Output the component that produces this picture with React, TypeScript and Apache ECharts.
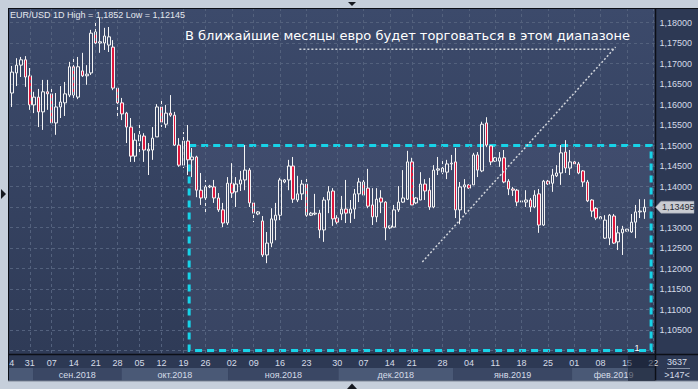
import React, { useEffect, useRef } from 'react';
import * as echarts from 'echarts';

// Daily EUR/USD candles, oldest first
const opens = [
  1.1628, 1.1677, 1.1696, 1.1709, 1.1670, 1.1599, 1.1618, 1.1582, 1.1631, 1.1626,
  1.1555, 1.1594, 1.1604, 1.1623, 1.1692, 1.1618, 1.1682, 1.1670, 1.1677, 1.1777,
  1.1750, 1.1750, 1.1745, 1.1740, 1.1640, 1.1604, 1.1579, 1.1545, 1.1474, 1.1511,
  1.1523, 1.1487, 1.1489, 1.1521, 1.1594, 1.1552, 1.1579, 1.1574, 1.1501, 1.1452,
  1.1511, 1.1465, 1.1472, 1.1391, 1.1372, 1.1399, 1.1399, 1.1372, 1.1343, 1.1311,
  1.1408, 1.1387, 1.1406, 1.1416, 1.1440, 1.1360, 1.1333, 1.1316, 1.1233, 1.1262,
  1.1318, 1.1330, 1.1411, 1.1416, 1.1450, 1.1367, 1.1382, 1.1406, 1.1330, 1.1333,
  1.1335, 1.1294, 1.1367, 1.1389, 1.1323, 1.1333, 1.1345, 1.1335, 1.1345, 1.1382,
  1.1411, 1.1396, 1.1355, 1.1326, 1.1372, 1.1362, 1.1299, 1.1301, 1.1343, 1.1362,
  1.1369, 1.1460, 1.1360, 1.1367, 1.1406, 1.1391, 1.1350, 1.1440, 1.1435, 1.1435,
  1.1455, 1.1460, 1.1343, 1.1399, 1.1404, 1.1404, 1.1477, 1.1438, 1.1555, 1.1499,
  1.1462, 1.1462, 1.1470, 1.1413, 1.1394, 1.1391, 1.1362, 1.1362, 1.1367, 1.1350,
  1.1382, 1.1306, 1.1413, 1.1408, 1.1426, 1.1433, 1.1484, 1.1445, 1.1460, 1.1455,
  1.1438, 1.1411, 1.1367, 1.1347, 1.1321, 1.1274, 1.1274, 1.1328, 1.1265, 1.1287,
  1.1291, 1.1289, 1.1313, 1.1338, 1.1338,
];
const highs = [
  1.1694, 1.1713, 1.1716, 1.1718, 1.1689, 1.1631, 1.1638, 1.1660, 1.1660, 1.1638,
  1.1628, 1.1645, 1.1655, 1.1704, 1.1713, 1.1716, 1.1726, 1.1696, 1.1782, 1.1806,
  1.1811, 1.1787, 1.1789, 1.1757, 1.1643, 1.1616, 1.1582, 1.1567, 1.1530, 1.1550,
  1.1530, 1.1506, 1.1545, 1.1601, 1.1609, 1.1599, 1.1623, 1.1582, 1.1518, 1.1533,
  1.1550, 1.1494, 1.1475, 1.1433, 1.1416, 1.1404, 1.1416, 1.1384, 1.1360, 1.1423,
  1.1457, 1.1423, 1.1438, 1.1501, 1.1445, 1.1362, 1.1340, 1.1328, 1.1289, 1.1347,
  1.1360, 1.1421, 1.1418, 1.1465, 1.1472, 1.1426, 1.1416, 1.1421, 1.1338, 1.1382,
  1.1343, 1.1374, 1.1401, 1.1396, 1.1330, 1.1377, 1.1416, 1.1367, 1.1394, 1.1421,
  1.1416, 1.1443, 1.1396, 1.1396, 1.1391, 1.1364, 1.1304, 1.1355, 1.1401, 1.1440,
  1.1487, 1.1470, 1.1374, 1.1435, 1.1418, 1.1421, 1.1452, 1.1472, 1.1462, 1.1465,
  1.1477, 1.1494, 1.1411, 1.1418, 1.1406, 1.1482, 1.1484, 1.1558, 1.1569, 1.1500,
  1.1472, 1.1484, 1.1489, 1.1418, 1.1399, 1.1394, 1.1366, 1.1391, 1.1372, 1.1391,
  1.1394, 1.1416, 1.1416, 1.1443, 1.1452, 1.1501, 1.1513, 1.1489, 1.1462, 1.1460,
  1.1440, 1.1416, 1.1369, 1.1350, 1.1328, 1.1330, 1.1333, 1.1333, 1.1304, 1.1304,
  1.1296, 1.1333, 1.1355, 1.1369, 1.1369,
];
const lows = [
  1.1594, 1.1645, 1.1667, 1.1643, 1.1587, 1.1579, 1.1545, 1.1538, 1.1587, 1.1550,
  1.1526, 1.1567, 1.1572, 1.1618, 1.1616, 1.1613, 1.1667, 1.1648, 1.1672, 1.1745,
  1.1726, 1.1733, 1.1728, 1.1635, 1.1570, 1.1562, 1.1506, 1.1460, 1.1460, 1.1484,
  1.1460, 1.1428, 1.1465, 1.1521, 1.1545, 1.1543, 1.1570, 1.1499, 1.1448, 1.1445,
  1.1428, 1.1423, 1.1374, 1.1355, 1.1335, 1.1396, 1.1360, 1.1338, 1.1301, 1.1306,
  1.1372, 1.1350, 1.1389, 1.1391, 1.1350, 1.1313, 1.1330, 1.1228, 1.1213, 1.1252,
  1.1269, 1.1318, 1.1408, 1.1391, 1.1360, 1.1362, 1.1367, 1.1326, 1.1328, 1.1330,
  1.1274, 1.1265, 1.1335, 1.1304, 1.1308, 1.1318, 1.1311, 1.1311, 1.1321, 1.1362,
  1.1377, 1.1347, 1.1306, 1.1313, 1.1335, 1.1269, 1.1296, 1.1301, 1.1338, 1.1360,
  1.1367, 1.1355, 1.1357, 1.1367, 1.1367, 1.1343, 1.1347, 1.1428, 1.1430, 1.1418,
  1.1440, 1.1323, 1.1308, 1.1335, 1.1394, 1.1404, 1.1423, 1.1435, 1.1496, 1.1452,
  1.1460, 1.1448, 1.1408, 1.1379, 1.1377, 1.1352, 1.1362, 1.1350, 1.1338, 1.1347,
  1.1287, 1.1304, 1.1404, 1.1387, 1.1423, 1.1404, 1.1433, 1.1428, 1.1452, 1.1430,
  1.1399, 1.1362, 1.1326, 1.1318, 1.1318, 1.1272, 1.1257, 1.1260, 1.1245, 1.1233,
  1.1291, 1.1287, 1.1274, 1.1323, 1.1321,
];
const closes = [
  1.1679, 1.1696, 1.1709, 1.1667, 1.1599, 1.1618, 1.1582, 1.1631, 1.1626, 1.1555,
  1.1594, 1.1606, 1.1626, 1.1692, 1.1623, 1.1692, 1.1670, 1.1674, 1.1774, 1.1750,
  1.1753, 1.1767, 1.1765, 1.1640, 1.1604, 1.1577, 1.1545, 1.1474, 1.1513, 1.1526,
  1.1489, 1.1491, 1.1518, 1.1594, 1.1557, 1.1579, 1.1574, 1.1501, 1.1452, 1.1511,
  1.1465, 1.1472, 1.1391, 1.1372, 1.1399, 1.1401, 1.1372, 1.1343, 1.1311, 1.1408,
  1.1384, 1.1406, 1.1416, 1.1440, 1.1360, 1.1335, 1.1338, 1.1233, 1.1262, 1.1321,
  1.1330, 1.1416, 1.1416, 1.1450, 1.1369, 1.1382, 1.1406, 1.1330, 1.1335, 1.1335,
  1.1294, 1.1367, 1.1387, 1.1321, 1.1313, 1.1345, 1.1335, 1.1345, 1.1382, 1.1411,
  1.1379, 1.1352, 1.1326, 1.1369, 1.1362, 1.1299, 1.1304, 1.1343, 1.1362, 1.1372,
  1.1460, 1.1355, 1.1372, 1.1406, 1.1389, 1.1350, 1.1440, 1.1443, 1.1445, 1.1455,
  1.1457, 1.1343, 1.1399, 1.1404, 1.1396, 1.1477, 1.1440, 1.1552, 1.1501, 1.1460,
  1.1470, 1.1470, 1.1411, 1.1394, 1.1391, 1.1362, 1.1365, 1.1367, 1.1350, 1.1379,
  1.1306, 1.1413, 1.1406, 1.1428, 1.1433, 1.1482, 1.1445, 1.1460, 1.1455, 1.1433,
  1.1411, 1.1365, 1.1340, 1.1323, 1.1326, 1.1318, 1.1330, 1.1262, 1.1287, 1.1296,
  1.1296, 1.1313, 1.1338, 1.1340, 1.13495,
];

// bar slots on the time axis (incl. empty slots after the last bar)
const slotCount = 147;
const slots = Array.from({ length: slotCount }, (_, i) => String(i));

const weekLabels = ['31', '07', '14', '21', '28', '05', '12', '19', '26', '02', '09', '16', '23',
  '30', '07', '14', '21', '28', '04', '11', '18', '25', '01', '08', '15', '22'];
const weekSlots = [4, 9, 14, 19, 24, 29, 34, 39, 44, 50, 55, 61, 67,
  74, 80, 86, 91, 98, 104, 110, 116, 122, 128, 134, 140, 146];

const monthLabels = ['сен.2018', 'окт.2018', 'ноя.2018', 'дек.2018', 'янв.2019', 'фев.2019'];
const monthStarts = [4.74, 24.9, 49.2, 74.3, 100.4, 127.5];

const rangeTop = 1.15;
const rangeBottom = 1.10;
const rangeFrom = 40.3;
const rangeTo = 145.5;
const trendLine = [[93.4, 1.1216], [137.4, 1.1740]];
const guideLine = [[65.4, 1.1735], [137.4, 1.1735]];
const lastPrice = 1.13495;

const headerText = 'EUR/USD 1D High = 1,1852 Low = 1,12145';
const noteText = 'В ближайшие месяцы евро будет торговаться в этом диапазоне';

const fmt = (v: number) => v.toFixed(5).replace('.', ',');
const SMALL = 'Liberation Sans, Arial, sans-serif';

export default function App() {
  const ref = useRef<HTMLDivElement>(null);
  useEffect(() => {
    if (!ref.current) return;
    const chart = echarts.init(ref.current, undefined, { renderer: 'svg' });
    const option: any = {
      animation: false,
      backgroundColor: '#2d3954',
      grid: { left: 10, right: 42.5, top: 2, bottom: 18, show: false },
      xAxis: [
        {
          type: 'category', data: slots, boundaryGap: true, z: 200,
          axisLine: { show: false }, axisTick: { show: false }, splitLine: { show: false },
          axisLabel: {
            interval: (i: number) => weekSlots.includes(i),
            formatter: (_v: string, i: number) => {
              const k = weekSlots.indexOf(i);
              return k >= 0 ? weekLabels[k] : '';
            },
            color: '#d5dce8', fontSize: 9, fontFamily: SMALL, margin: -8.5, verticalAlign: 'middle',
          },
        },
        { type: 'value', min: -0.5, max: slotCount - 0.5, show: false },
      ],
      yAxis: [
        {
          type: 'value', position: 'right', min: 1.095, max: 1.185, interval: 0.005,
          axisLabel: { show: false }, axisLine: { show: false }, axisTick: { show: false },
          splitLine: { show: true, lineStyle: { color: '#53617d', type: [3, 3], width: 1 } },
        },
        {
          type: 'value', position: 'right', min: 1.095, max: 1.185, interval: 0.005, z: 200,
          axisLine: { show: false }, axisTick: { show: false }, splitLine: { show: false },
          axisLabel: {
            formatter: (v: number) =>
              v >= 1.1049 && v <= 1.1801 && Math.abs(v - lastPrice) > 0.002 ? fmt(v) : '',
            color: '#d5dce8', fontSize: 9, fontFamily: SMALL, margin: 4,
          },
        },
      ],
      series: [
        {
          type: 'line', xAxisIndex: 1, yAxisIndex: 0, data: [], silent: true, z: 1,
          markLine: {
            symbol: ['none', 'none'], silent: true, label: { show: false },
            lineStyle: { color: '#53617d', type: [3, 3], width: 1 },
            data: weekSlots.map((i) => ({ xAxis: i })),
          },
          markArea: {
            silent: true,
            itemStyle: {
              color: 'rgba(150,170,210,0.09)', borderColor: '#17d3e8', borderWidth: 3, borderType: [7, 5],
            },
            label: {
              show: true, position: 'insideBottomRight', formatter: '1', color: '#ffffff',
              fontSize: 9, fontFamily: SMALL, offset: [-8, 5],
            },
            data: [[{ xAxis: rangeFrom, yAxis: rangeTop }, { xAxis: rangeTo, yAxis: rangeBottom }]],
          },
        },
        {
          type: 'candlestick', xAxisIndex: 0, yAxisIndex: 0, z: 3, barWidth: 3,
          data: opens.map((o, i) => [o, closes[i], lows[i], highs[i]]),
          itemStyle: {
            color: 'rgba(0,0,0,0)', color0: '#e0173d', borderColor: '#f4f4f4', borderColor0: '#f4f4f4', borderWidth: 1,
          },
        },
        {
          type: 'line', xAxisIndex: 1, yAxisIndex: 0, data: trendLine, symbol: 'none', z: 4, silent: true,
          lineStyle: { color: '#cfd3da', width: 1.5, type: [2, 2] },
        },
        {
          type: 'line', xAxisIndex: 1, yAxisIndex: 0, data: guideLine, symbol: 'none', z: 4, silent: true,
          lineStyle: { color: '#cfd3da', width: 1.5, type: [2, 2] },
        },
      ],
    };
    chart.setOption(option);

    const px = (v: number) => chart.convertToPixel({ xAxisIndex: 1 }, v) as number;
    const py = (v: number) => chart.convertToPixel({ yAxisIndex: 0 }, v) as number;
    const frame = '#c6cfdb';
    const bands: any[] = [];
    const bandBounds = [-0.5, ...monthStarts, slotCount - 0.5];
    for (let b = 0; b < bandBounds.length - 1; b++) {
      const x0 = b === 0 ? 8.5 : px(bandBounds[b]);
      const x1 = Math.min(px(bandBounds[b + 1]), 655);
      bands.push({
        type: 'rect', z: 101, silent: true,
        shape: { x: x0, y: 368, width: x1 - x0, height: 12.5 },
        style: { fill: b % 2 === 0 ? '#4a5976' : '#3a4764' },
      });
    }
    const monthTexts = monthLabels.map((m, k) => {
      const x0 = px(monthStarts[k]);
      const x1 = Math.min(px(bandBounds[k + 2]), 655);
      return {
        type: 'text', z: 102, silent: true, x: (x0 + x1) / 2, y: 374.5,
        style: { text: m, fill: '#d5dce8', fontSize: 9, fontFamily: SMALL, align: 'center', verticalAlign: 'middle' },
      };
    });
    const yTag = py(lastPrice);
    const graphic = [
      {
        type: 'rect', z: -10, silent: true, shape: { x: 8, y: 8, width: 647.5, height: 346 },
        style: {
          fill: new echarts.graphic.LinearGradient(0, 0, 0, 1, [
            { offset: 0, color: '#3c4a6b' }, { offset: 1, color: '#2f3b57' },
          ]),
        },
      },
      { type: 'rect', z: 100, silent: true, shape: { x: 8, y: 354, width: 647.5, height: 27 }, style: { fill: '#2d3954' } },
      { type: 'rect', z: 100, silent: true, shape: { x: 0, y: 0, width: 698, height: 8 }, style: { fill: frame } },
      { type: 'rect', z: 100, silent: true, shape: { x: 0, y: 0, width: 8, height: 389 }, style: { fill: frame } },
      { type: 'rect', z: 100, silent: true, shape: { x: 0, y: 381, width: 698, height: 8 }, style: { fill: frame } },
      ...bands,
      ...monthTexts,
      {
        type: 'text', z: 102, silent: true, x: 11.7, y: 362.5,
        style: { text: '4', fill: '#d5dce8', fontSize: 9, fontFamily: SMALL, align: 'center', verticalAlign: 'middle' },
      },
      { type: 'rect', z: 250, silent: true, shape: { x: 628, y: 355, width: 27, height: 26 }, style: { fill: 'rgba(20,27,44,0.55)' } },
      { type: 'line', z: 110, silent: true, shape: { x1: 8.5, y1: 8, x2: 8.5, y2: 381 }, style: { stroke: '#0c0f16', lineWidth: 1 } },
      { type: 'line', z: 110, silent: true, shape: { x1: 8, y1: 8.5, x2: 698, y2: 8.5 }, style: { stroke: '#0c0f16', lineWidth: 1 } },
      { type: 'line', z: 110, silent: true, shape: { x1: 8, y1: 354.5, x2: 698, y2: 354.5 }, style: { stroke: '#0c0f16', lineWidth: 1.5 } },
      { type: 'line', z: 110, silent: true, shape: { x1: 655.5, y1: 8, x2: 655.5, y2: 381 }, style: { stroke: '#0c0f16', lineWidth: 1.5 } },
      { type: 'line', z: 110, silent: true, shape: { x1: 8, y1: 381, x2: 698, y2: 381 }, style: { stroke: '#7e8898', lineWidth: 1 } },
      {
        type: 'text', z: 210, silent: true, x: 677, y: 362,
        style: { text: '3637', fill: '#d5dce8', fontSize: 9, fontFamily: SMALL, align: 'center', verticalAlign: 'middle' },
      },
      { type: 'line', z: 210, silent: true, shape: { x1: 667, y1: 368.5, x2: 690, y2: 368.5 }, style: { stroke: '#8893a6', lineWidth: 1 } },
      {
        type: 'text', z: 210, silent: true, x: 677, y: 375,
        style: { text: '>147<', fill: '#d5dce8', fontSize: 9, fontFamily: SMALL, align: 'center', verticalAlign: 'middle' },
      },
      {
        type: 'polygon', z: 210, silent: true,
        shape: { points: [[655.5, yTag], [661, yTag - 6], [694, yTag - 6], [694, yTag + 6], [661, yTag + 6]] },
        style: { fill: '#c9ccd2', stroke: '#9aa0aa', lineWidth: 0.5 },
      },
      {
        type: 'text', z: 211, silent: true, x: 662, y: yTag,
        style: { text: fmt(lastPrice), fill: '#262a33', fontSize: 9, fontFamily: SMALL, align: 'left', verticalAlign: 'middle' },
      },
      {
        type: 'text', z: 150, silent: true, x: 10, y: 14.5,
        style: { text: headerText, fill: '#e4e8ee', fontSize: 9, fontFamily: SMALL, align: 'left', verticalAlign: 'middle' },
      },
      {
        type: 'text', z: 150, silent: true, x: 185, y: 35,
        style: { text: noteText, fill: '#ffffff', fontSize: 13, fontFamily: 'DejaVu Sans', align: 'left', verticalAlign: 'middle' },
      },
      { type: 'polygon', z: 120, silent: true, shape: { points: [[348, 2], [356, 2], [352, 6]] }, style: { fill: '#15181f' } },
      { type: 'polygon', z: 120, silent: true, shape: { points: [[347, 389], [357, 389], [352, 383.5]] }, style: { fill: '#15181f' } },
      { type: 'polygon', z: 120, silent: true, shape: { points: [[1, 189], [6, 194], [1, 199]] }, style: { fill: '#15181f' } },
    ];
    chart.setOption({ graphic });
    return () => chart.dispose();
  }, []);
  return <div ref={ref} style={{ position: 'absolute', left: 0, top: 0, width: 698, height: 389 }} />;
}
